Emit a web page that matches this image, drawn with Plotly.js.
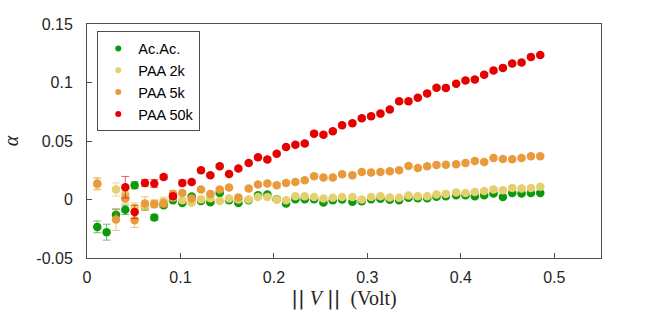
<!DOCTYPE html>
<html>
<head>
<meta charset="utf-8">
<script src="https://cdn.plot.ly/plotly-3.0.1.min.js"></script>
<style>html,body{margin:0;padding:0;background:#fff;}#chart{width:664px;height:316px;}</style>
</head>
<body>
<div id="chart"></div>
<script>
const voltage = [0.011,0.021,0.031,0.041,0.051,0.062,0.072,0.082,0.092,0.102,0.112,0.122,0.132,0.142,0.152,0.162,0.173,0.183,0.193,0.203,0.213,0.223,0.233,0.243,0.253,0.263,0.273,0.284,0.294,0.304,0.314,0.324,0.334,0.344,0.354,0.364,0.374,0.384,0.395,0.405,0.415,0.425,0.435,0.445,0.455,0.465,0.475,0.485];

const seriesNames = ["Ac.Ac.", "PAA 2k", "PAA 5k", "PAA 50k"];

const alphaAcAc = [-0.0234,-0.0279,-0.0131,-0.0088,0.0122,-0.0060,-0.0154,-0.0049,-0.0006,-0.0029,0.0026,-0.0012,-0.0023,0.0056,-0.0006,-0.0029,-0.0006,0.0037,0.0043,0.0003,-0.0034,0.0003,0.0003,0.0003,-0.0026,-0.0006,0.0000,-0.0020,-0.0015,0.0003,0.0007,-0.0002,-0.0006,0.0015,0.0011,0.0011,0.0024,0.0028,0.0037,0.0037,0.0028,0.0037,0.0051,0.0022,0.0056,0.0051,0.0056,0.0056];
const errAcAc = [0.005,0.0068,0.0047,0.004,0.003,0.003,0.0025,0.002,0.0012,0.0012,0.0012,0.0012,0.0012,0.0012,0.0012,0.0012,0.0012,0.0012,0.0012,0.0012,0.0012,0.0012,0.0012,0.0012,0.0012,0.0012,0.0012,0.0012,0.0012,0.0012,0.0012,0.0012,0.0012,0.0012,0.0012,0.0012,0.0012,0.0012,0.0012,0.0012,0.0012,0.0012,0.0012,0.0012,0.0012,0.0012,0.0012,0.0012];

const alphaPAA2k = [0.0131,null,0.0085,0.0045,-0.0068,-0.0057,-0.0032,-0.0015,0.0020,-0.0006,-0.0027,0.0003,0.0011,-0.0012,0.0009,0.0000,0.0000,0.0022,0.0022,0.0000,-0.0006,0.0028,0.0028,0.0022,0.0009,0.0015,0.0022,0.0022,0.0000,0.0022,0.0028,0.0017,0.0014,0.0034,0.0028,0.0028,0.0043,0.0048,0.0060,0.0056,0.0065,0.0073,0.0085,0.0079,0.0099,0.0094,0.0099,0.0108];
const errPAA2k = [0.005,null,0.0057,0.005,0.004,0.003,0.003,0.0035,0.003,0.0015,0.0015,0.0015,0.0015,0.0015,0.0015,0.0015,0.0015,0.0015,0.0015,0.0015,0.0015,0.0015,0.0015,0.0015,0.0015,0.0015,0.0015,0.0015,0.0015,0.0015,0.0015,0.0015,0.0015,0.0015,0.0015,0.0015,0.0015,0.0015,0.0015,0.0015,0.0015,0.0015,0.0015,0.0015,0.0015,0.0015,0.0015,0.0015];

const alphaPAA5k = [0.0137,null,-0.0171,0.0009,-0.0177,-0.0034,-0.0040,-0.0034,0.0048,0.0056,0.0009,0.0085,0.0048,0.0085,0.0102,0.0017,0.0094,0.0128,0.0137,0.0122,0.0142,0.0150,0.0165,0.0199,0.0188,0.0188,0.0216,0.0207,0.0235,0.0230,0.0235,0.0241,0.0250,0.0287,0.0270,0.0284,0.0294,0.0297,0.0301,0.0312,0.0329,0.0321,0.0355,0.0346,0.0344,0.0355,0.0369,0.0369];
const errPAA5k = [0.005,null,0.0094,0.004,0.0062,0.0057,0.003,0.003,0.003,0.002,0.0015,0.0015,0.0015,0.0015,0.0015,0.0015,0.0015,0.0015,0.0015,0.0015,0.0015,0.0015,0.0015,0.0015,0.0015,0.0015,0.0015,0.0015,0.0015,0.0015,0.0015,0.0015,0.0015,0.0015,0.0015,0.0015,0.0015,0.0015,0.0015,0.0015,0.0015,0.0015,0.0015,0.0015,0.0015,0.0015,0.0015,0.0015];

const alphaPAA50k = [null,null,null,0.0105,-0.0106,0.0142,0.0137,0.0193,0.0028,0.0142,0.0150,0.0250,0.0207,0.0284,0.0218,0.0265,0.0312,0.0361,0.0341,0.0392,0.0448,0.0468,0.0478,0.0563,0.0553,0.0583,0.0634,0.0651,0.0694,0.0711,0.0734,0.0770,0.0839,0.0839,0.0869,0.0907,0.0956,0.0954,0.0990,0.1018,0.1026,0.1067,0.1103,0.1125,0.1163,0.1170,0.1218,0.1235];
const errPAA50k = [null,null,null,0.0092,0.0057,0.003,0.0035,0.002,0.002,0.0025,0.0015,0.0015,0.0015,0.0015,0.0015,0.0015,0.0015,0.0015,0.0015,0.0015,0.0015,0.0015,0.0015,0.0015,0.0015,0.0015,0.0015,0.0015,0.0015,0.0015,0.0015,0.0015,0.0015,0.0015,0.0015,0.0015,0.0015,0.0015,0.0015,0.0015,0.0015,0.0015,0.0015,0.0015,0.0015,0.0015,0.0015,0.0015];

const xTickVals = [0, 0.1, 0.2, 0.3, 0.4, 0.5];
const xTickText = ["0", "0.1", "0.2", "0.3", "0.4", "0.5"];
const yTickVals = [-0.05, 0, 0.05, 0.1, 0.15];
const yTickText = ["-0.05", "0", "0.05", "0.1", "0.15"];

const colors = ["#0b9a0b", "#e6cf6f", "#e99a3b", "#e60000"];
const errColors = ["rgba(11,154,11,0.6)", "rgba(230,207,111,0.7)", "rgba(233,154,59,0.6)", "rgba(230,0,0,0.6)"];
const ys = [alphaAcAc, alphaPAA2k, alphaPAA5k, alphaPAA50k];
const errs = [errAcAc, errPAA2k, errPAA5k, errPAA50k];

const traces = [];
for (let i = 0; i < 4; i++) {
  traces.push({
    type: "scatter", mode: "markers", x: voltage, y: ys[i],
    name: seriesNames[i], showlegend: false,
    marker: {color: colors[i], size: 8.5, line: {width: 0}},
    error_y: {type: "data", array: errs[i], visible: true, color: errColors[i], thickness: 1, width: 4}
  });
}
for (let i = 0; i < 4; i++) {
  traces.push({
    type: "scatter", mode: "markers", x: [null], y: [null],
    name: seriesNames[i], showlegend: true,
    marker: {color: colors[i], size: 6}
  });
}

const axisCommon = {
  showline: true, mirror: true, linecolor: "#4d4d4d", linewidth: 1,
  ticks: "inside", ticklen: 5, tickcolor: "#4d4d4d", tickwidth: 1,
  showgrid: false, zeroline: false,
  tickfont: {family: "Liberation Sans, Arial, sans-serif", size: 16, color: "#262626"}
};

const layout = {
  width: 664, height: 316,
  margin: {l: 87, r: 63, t: 23.5, b: 58, pad: 0},
  paper_bgcolor: "#ffffff", plot_bgcolor: "#ffffff",
  showlegend: true,
  xaxis: Object.assign({}, axisCommon, {
    range: [0, 0.55], tickvals: xTickVals, ticktext: xTickText, ticklabelstandoff: 5,
    title: {text: "<span style=\"font-family:DejaVu Sans\">||</span> <i>V</i> <span style=\"font-family:DejaVu Sans\">||</span>  (Volt)", standoff: 3,
      font: {family: "Liberation Serif, Times New Roman, serif", size: 20, color: "#262626"}}
  }),
  yaxis: Object.assign({}, axisCommon, {
    range: [-0.05, 0.15], tickvals: yTickVals, ticktext: yTickText, ticklabelstandoff: 10,
    title: {text: "<i>α</i>", standoff: 16,
      font: {family: "Liberation Serif, Times New Roman, serif", size: 20, color: "#262626"}}
  }),
  legend: {
    x: 0.02, y: 0.968, xanchor: "left", yanchor: "top",
    bgcolor: "#ffffff", bordercolor: "#4d4d4d", borderwidth: 1,
    font: {family: "Liberation Sans, Arial, sans-serif", size: 14.5, color: "#000000"},
    tracegroupgap: 0, itemwidth: 30
  }
};

Plotly.newPlot("chart", traces, layout, {displayModeBar: false, staticPlot: true});
</script>
</body>
</html>
